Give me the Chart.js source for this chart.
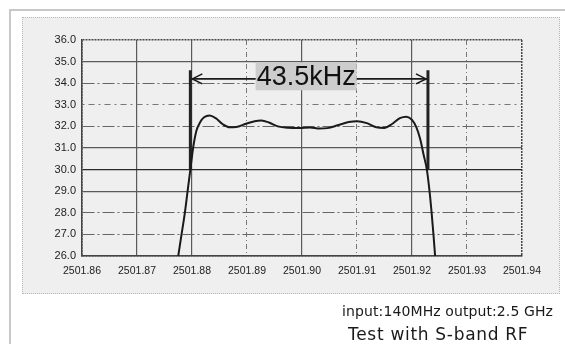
<!DOCTYPE html>
<html lang="en">
<head>
    <meta charset="UTF-8">
    <title>Test with S-band RF</title>
    <style>
        body {
            margin: 0;
            background: #ffffff;
            font-family: "Liberation Sans", Arial, sans-serif;
        }

        .frame {
            position: absolute;
            left: 9px;
            top: 9px;
            width: 560px;
            height: 340px;
            border-left: 2px solid #c8c8c8;
            border-top: 2px solid #c8c8c8;
        }

        .panel {
            position: absolute;
            left: 22px;
            top: 17px;
            width: 538px;
            height: 277px;
            box-sizing: border-box;
            background: #efefef;
            border: 1px dotted #b8b8b8;
        }

        #chartBox {
            position: absolute;
            left: 0;
            top: 0;
            width: 565px;
            height: 344px;
        }

        .note {
            position: absolute;
            font-family: "DejaVu Sans", sans-serif;
            color: #1a1a1a;
            white-space: nowrap;
        }

        .note1 {
            right: 12px;
            top: 304px;
            font-size: 14px;
            line-height: 14px;
            letter-spacing: 0.1px;
        }

        .note2 {
            left: 348px;
            top: 326px;
            font-size: 17px;
            line-height: 17px;
            letter-spacing: 0.7px;
        }
    </style>
</head>
<body>
    <div class="frame"></div>
    <div class="panel"></div>
    <div id="chartBox"><canvas id="bandChart"></canvas></div>
    <div class="note note1">input:140MHz output:2.5 GHz</div>
    <div class="note note2">Test with S-band RF</div>

    <script src="https://cdn.jsdelivr.net/npm/chart.js"></script>
    <script>
        // frequency (MHz) and output level
        const freq = [
            2501.8775, 2501.8781, 2501.8787, 2501.8792, 2501.8797, 2501.8802, 2501.8808, 2501.8815,
            2501.8822, 2501.8832, 2501.8843, 2501.8856, 2501.8868, 2501.8880, 2501.8898, 2501.8914,
            2501.8926, 2501.8940, 2501.8956, 2501.8975, 2501.8995, 2501.9015, 2501.9032, 2501.9046,
            2501.9065, 2501.9085, 2501.9100, 2501.9118, 2501.9135, 2501.9150, 2501.9163, 2501.9178,
            2501.9190, 2501.9200, 2501.9208, 2501.9215, 2501.9221, 2501.9227, 2501.9231, 2501.9235,
            2501.9239, 2501.9242
        ];
        const level = [
            26.0, 27.0, 28.0, 29.0, 30.0, 31.0, 31.8, 32.2,
            32.42, 32.5, 32.38, 32.1, 31.96, 31.97, 32.12, 32.24,
            32.27, 32.18, 32.0, 31.94, 31.93, 31.95, 31.9, 31.92,
            32.05, 32.2, 32.24, 32.15, 31.96, 31.93, 32.1, 32.38,
            32.45, 32.3, 31.95, 31.4, 30.7, 30.0, 29.2, 28.2,
            27.0, 26.0
        ];

        const xTicks = [2501.86, 2501.87, 2501.88, 2501.89, 2501.90, 2501.91, 2501.92, 2501.93, 2501.94];
        const yTicks = [26, 27, 28, 29, 30, 31, 32, 33, 34, 35, 36];

        // bandwidth markers
        const markerFreq = [2501.8797, 2501.9229];
        const markerLevel = [30.0, 34.6];
        const arrowLevel = 34.2;
        const labelLevel = 34.32;
        const bandLabel = "43.5kHz";

        // grid line looks
        function hGrid(v) {
            if (v === 30) return { color: "#2a2a2a", width: 1.2, dash: [] };
            if (v === 35 || v === 31 || v === 29) return { color: "#5a5a5a", width: 1.2, dash: [] };
            if (v === 36 || v === 26) return { color: "#444", width: 1.5, dash: [2, 1] };
            if (v === 33) return { color: "#777", width: 1, dash: [2, 4, 6, 4] };
            return { color: "#666", width: 1.1, dash: [12, 3, 2, 3] };
        }

        function vGrid(v) {
            const k = Math.round((v - 2501.86) * 100);
            if (k === 0 || k === 8) return { color: "#444", width: 1.5, dash: [2, 1] };
            if (k % 2 === 0 || k === 1) return { color: "#5a5a5a", width: 1.2, dash: [] };
            return { color: "#777", width: 1, dash: [5, 3, 1, 3] };
        }

        // arrow heads + label box
        const bandPlugin = {
            id: "bandPlugin",
            afterDatasetsDraw(chart) {
                const ctx = chart.ctx;
                const xs = chart.scales.x;
                const ys = chart.scales.y;
                const x1 = xs.getPixelForValue(markerFreq[0]);
                const x2 = xs.getPixelForValue(markerFreq[1]);
                const ya = ys.getPixelForValue(arrowLevel);

                ctx.save();
                ctx.strokeStyle = "#1a1a1a";
                ctx.lineWidth = 1.6;
                ctx.beginPath();
                ctx.moveTo(x1 + 12, ya - 5);
                ctx.lineTo(x1 + 2, ya);
                ctx.lineTo(x1 + 12, ya + 5);
                ctx.moveTo(x2 - 12, ya - 5);
                ctx.lineTo(x2 - 2, ya);
                ctx.lineTo(x2 - 12, ya + 5);
                ctx.stroke();

                const cx = xs.getPixelForValue((markerFreq[0] + markerFreq[1]) / 2) - 3;
                const cy = ys.getPixelForValue(labelLevel);
                ctx.font = "27px 'Liberation Sans', Arial, sans-serif";
                const w = ctx.measureText(bandLabel).width;
                ctx.fillStyle = "#cdcdcd";
                ctx.fillRect(cx - w / 2 - 1, cy - 14, w + 2, 28);
                ctx.fillStyle = "#111";
                ctx.textAlign = "center";
                ctx.textBaseline = "middle";
                ctx.fillText(bandLabel, cx, cy + 1);
                ctx.restore();
            }
        };

        const ctx = document.getElementById("bandChart").getContext("2d");
        new Chart(ctx, {
            type: "line",
            data: {
                datasets: [
                    {
                        data: freq.map((x, i) => ({ x: x, y: level[i] })),
                        borderColor: "#1a1a1a",
                        borderWidth: 2,
                        pointRadius: 0,
                        cubicInterpolationMode: "monotone"
                    },
                    {
                        data: markerLevel.map(y => ({ x: markerFreq[0], y: y })),
                        borderColor: "#222",
                        borderWidth: 3,
                        pointRadius: 0
                    },
                    {
                        data: markerLevel.map(y => ({ x: markerFreq[1], y: y })),
                        borderColor: "#222",
                        borderWidth: 3,
                        pointRadius: 0
                    },
                    {
                        data: markerFreq.map(x => ({ x: x, y: arrowLevel })),
                        borderColor: "#1a1a1a",
                        borderWidth: 1.6,
                        pointRadius: 0
                    }
                ]
            },
            options: {
                responsive: true,
                maintainAspectRatio: false,
                animation: false,
                layout: { padding: { left: 42, right: 43, top: 40, bottom: 58 } },
                plugins: {
                    legend: { display: false },
                    tooltip: { enabled: false }
                },
                scales: {
                    x: {
                        type: "linear",
                        min: 2501.86,
                        max: 2501.94,
                        afterBuildTicks: s => { s.ticks = xTicks.map(v => ({ value: v })); },
                        afterFit: s => { s.height = 30; },
                        grid: {
                            drawTicks: false,
                            color: c => c.tick ? vGrid(c.tick.value).color : "#444",
                            lineWidth: c => c.tick ? vGrid(c.tick.value).width : 1.5
                        },
                        border: {
                            color: "#444",
                            width: 1.5,
                            dash: c => c.tick ? vGrid(c.tick.value).dash : []
                        },
                        ticks: {
                            padding: 9,
                            color: "#222",
                            font: { size: 10.5, family: "'Liberation Sans', Arial, sans-serif" },
                            callback: v => v.toFixed(2)
                        }
                    },
                    y: {
                        min: 26,
                        max: 36,
                        afterBuildTicks: s => { s.ticks = yTicks.map(v => ({ value: v })); },
                        afterFit: s => { s.width = 40; },
                        grid: {
                            drawTicks: false,
                            color: c => c.tick ? hGrid(c.tick.value).color : "#444",
                            lineWidth: c => c.tick ? hGrid(c.tick.value).width : 1.5
                        },
                        border: {
                            color: "#444",
                            width: 1.5,
                            dash: c => c.tick ? hGrid(c.tick.value).dash : []
                        },
                        ticks: {
                            padding: 6,
                            color: "#222",
                            font: { size: 11, family: "'Liberation Sans', Arial, sans-serif" },
                            callback: v => v.toFixed(1)
                        }
                    }
                }
            },
            plugins: [bandPlugin]
        });
    </script>
</body>
</html>
